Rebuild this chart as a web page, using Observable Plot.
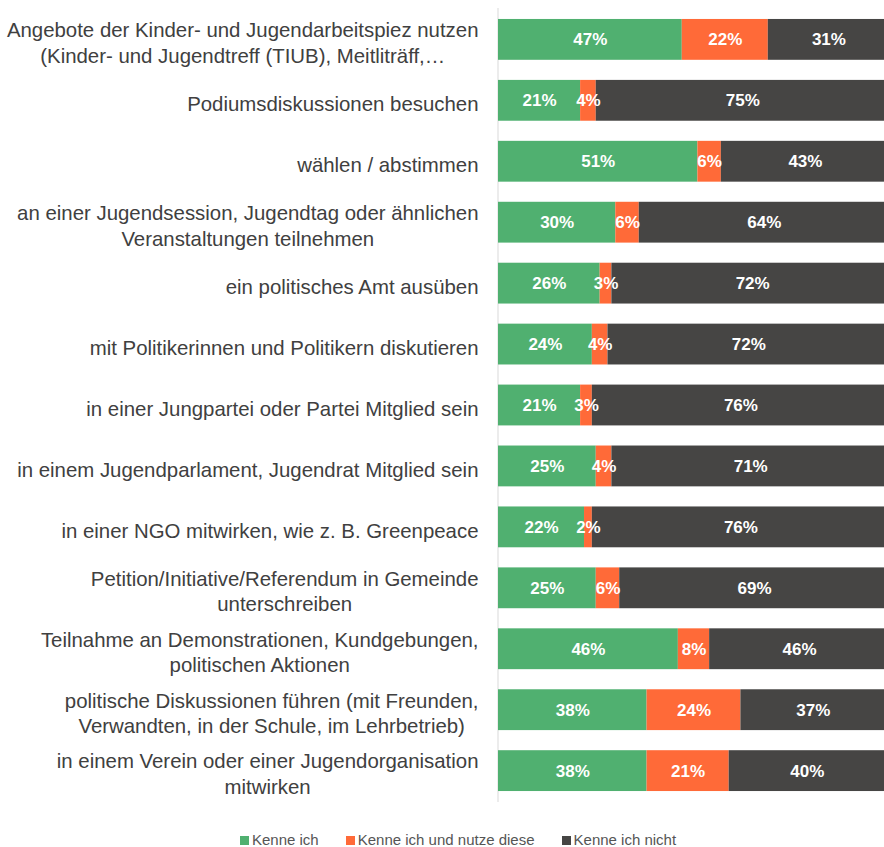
<!DOCTYPE html>
<html>
<head>
<meta charset="utf-8">
<script src="https://cdn.jsdelivr.net/npm/d3@7"></script>
<script src="https://cdn.jsdelivr.net/npm/@observablehq/plot@0.6"></script>
<style>
  html, body { margin: 0; padding: 0; background: #fff; overflow: hidden; }
  body { width: 884px; height: 847px; font-family: "Liberation Sans", Arial, Helvetica, sans-serif; }
  #chart svg { overflow: hidden; display: block; }
  .legend { display: flex; align-items: center; margin-top: 19px; padding-left: 240px; font-size: 15px; color: #555; line-height: 18px; }
  .legend .item { display: flex; align-items: center; margin-right: 27px; }
  .legend .sw { width: 9px; height: 9px; margin-right: 3px; display: inline-block; }
</style>
</head>
<body>
<div id="chart"></div>
<div class="legend" id="legend"></div>
<script>
const categories = [
  "Angebote der Kinder- und Jugendarbeitspiez nutzen\n(Kinder- und Jugendtreff (TIUB), Meitliträff,…",
  "Podiumsdiskussionen besuchen",
  "wählen / abstimmen",
  "an einer Jugendsession, Jugendtag oder ähnlichen\nVeranstaltungen teilnehmen",
  "ein politisches Amt ausüben",
  "mit Politikerinnen und Politikern diskutieren",
  "in einer Jungpartei oder Partei Mitglied sein",
  "in einem Jugendparlament, Jugendrat Mitglied sein",
  "in einer NGO mitwirken, wie z. B. Greenpeace",
  "Petition/Initiative/Referendum in Gemeinde\nunterschreiben",
  "Teilnahme an Demonstrationen, Kundgebungen,\npolitischen Aktionen",
  "politische Diskussionen führen (mit Freunden,\nVerwandten, in der Schule, im Lehrbetrieb)",
  "in einem Verein oder einer Jugendorganisation\nmitwirken"
];
const kenneIch      = [47, 21, 51, 30, 26, 24, 21, 25, 22, 25, 46, 38, 38];
const kenneNutze    = [22,  4,  6,  6,  3,  4,  3,  4,  2,  6,  8, 24, 21];
const kenneNicht    = [31, 75, 43, 64, 72, 72, 76, 71, 76, 69, 46, 37, 40];
const seriesNames   = ["Kenne ich", "Kenne ich und nutze diese", "Kenne ich nicht"];
const seriesColors  = ["#50b070", "#ff6a38", "#464544"];

const seriesValues = [kenneIch, kenneNutze, kenneNicht];
const data = [];
categories.forEach((c, i) => {
  seriesNames.forEach((s, j) => {
    data.push({category: c, series: s, value: seriesValues[j][i]});
  });
});

const plot = Plot.plot({
  width: 884,
  height: 812,
  marginTop: 8,
  marginBottom: 10,
  marginLeft: 498,
  marginRight: 0,
  style: {fontFamily: '"Liberation Sans", Arial, Helvetica, sans-serif', background: "#fff"},
  x: {domain: [0, 100], range: [498, 889], axis: null},
  y: {domain: categories, paddingInner: 0.33, paddingOuter: 0.18, round: false, axis: null},
  color: {domain: seriesNames, range: seriesColors},
  marks: [
    Plot.ruleX([0], {stroke: "#d9d9d9", strokeWidth: 1, dx: -0.5}),
    Plot.barX(data, Plot.stackX({x: "value", y: "category", fill: "series", z: "series", order: seriesNames})),
    Plot.text(data, Plot.stackX({
      x: "value", y: "category", z: "series", order: seriesNames,
      text: d => d.value + "%",
      fill: "white", fontWeight: "bold", fontSize: 17
    })),
    Plot.axisY({
      tickSize: 0, tickPadding: 20, fontSize: 20.4, lineHeight: 1.26,
      color: "#404040", dy: 2, label: null
    })
  ]
});

document.getElementById("chart").appendChild(plot);

// center multi-line tick labels within their block (block right-aligned)
const labelGroup = plot.querySelector('g[aria-label="y-axis tick label"]');
if (labelGroup) {
  labelGroup.querySelectorAll("text").forEach(t => {
    const spans = t.querySelectorAll("tspan");
    if (spans.length > 1) {
      const w = t.getBBox().width;
      t.setAttribute("text-anchor", "middle");
      spans.forEach(s => {
        const x0 = +(s.getAttribute("x") || 0);
        s.setAttribute("x", x0 - w / 2);
      });
    }
  });
}

// legend
const legend = document.getElementById("legend");
seriesNames.forEach((s, i) => {
  const item = document.createElement("span");
  item.className = "item";
  const sw = document.createElement("span");
  sw.className = "sw";
  sw.style.background = seriesColors[i];
  item.appendChild(sw);
  item.appendChild(document.createTextNode(s));
  legend.appendChild(item);
});
</script>
</body>
</html>
